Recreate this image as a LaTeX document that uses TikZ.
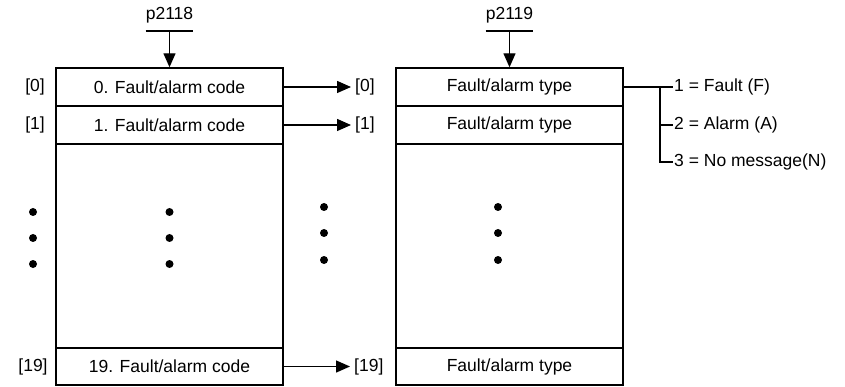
\documentclass[tikz,border=0pt]{standalone}
\usepackage{fontspec}
\setmainfont{Liberation Sans}
\usetikzlibrary{arrows.meta}

\newcommand*{\codex}{169.5}
\newcommand*{\typex}{509.5}
\newcommand*{\branchx}{660}

\begin{document}
\begin{tikzpicture}
[
	x=1pt,
	y=-1pt,
	txt/.style={font=\fontsize{17.5}{21}\selectfont},
	cell/.style={txt,draw,line width=1.4pt,inner sep=0pt,minimum width=227pt,minimum height=38pt},
	param/.style={txt,inner xsep=0pt,inner ysep=8pt,anchor=south},
	idx/.style={txt,inner sep=4pt},
	dot/.style={fill},
	arr/.style={line width=1.4pt,-{Triangle[length=14pt,width=12pt]}}
]

	\useasboundingbox (0,0) rectangle (845,387);

	% fault/alarm code (p2118)
	\node[cell] (c0) at (\codex,87) {0. Fault/alarm code};
	\node[cell] (c1) at (\codex,125) {1. Fault/alarm code};
	\node[cell,minimum height=204pt] (cm) at (\codex,246) {};
	\node[cell,minimum height=37pt] (c19) at (\codex,366.5) {19. Fault/alarm code};

	% fault/alarm type (p2119)
	\node[cell] (r0) at (\typex,87) {Fault/alarm type};
	\node[cell] (r1) at (\typex,125) {Fault/alarm type};
	\node[cell,minimum height=204pt] (rm) at (\typex,246) {};
	\node[cell,minimum height=37pt] (r19) at (\typex,366.5) {Fault/alarm type};

	% parameters
	\node[param] (p1) at (\codex,31) {p2118};
	\node[param] (p2) at (\typex,31) {p2119};
	\draw[line width=1.4pt] (p1.south west) -- (p1.south east);
	\draw[line width=1.4pt] (p2.south west) -- (p2.south east);
	\draw[arr] (p1.south) -- (c0.north);
	\draw[arr] (p2.south) -- (r0.north);

	% indices
	\node[idx] (i0) at (35,87) {[0]};
	\node[idx] (i1) at (35,125) {[1]};
	\node[idx] (i19) at (33,366.5) {[19]};
	\node[idx,anchor=west] (t0) at (351,87) {[0]};
	\node[idx,anchor=west] (t1) at (351,125) {[1]};
	\node[idx,anchor=west] (t19) at (350,366.5) {[19]};
	\draw[arr] (c0.east) -- (t0.west);
	\draw[arr] (c1.east) -- (t1.west);
	\draw[arr] (c19.east) -- (t19.west);

	% dots
	\foreach \y in {212,238,264} {
		\fill[dot] (33,\y) circle (4pt);
		\fill[dot] (\codex,\y) circle (4pt);
	}
	\foreach \y in {207,233,260} {
		\fill[dot] (324,\y) circle (4pt);
		\fill[dot] (498,\y) circle (4pt);
	}

	% type values
	\node[txt,anchor=west,inner sep=1pt] (v1) at (673,87) {1 = Fault (F)};
	\node[txt,anchor=west,inner sep=1pt] (v2) at (673,125) {2 = Alarm (A)};
	\node[txt,anchor=west,inner sep=1pt] (v3) at (673,162) {3 = No message(N)};
	\coordinate (b1) at (\branchx,87);
	\coordinate (b2) at (\branchx,125);
	\coordinate (b3) at (\branchx,162);
	\draw[line width=1.4pt] (r0.east) -- (v1.west);
	\draw[line width=1.4pt] (b1) -- (b3) -- (v3.west);
	\draw[line width=1.4pt] (b2) -- (v2.west);

\end{tikzpicture}
\end{document}
